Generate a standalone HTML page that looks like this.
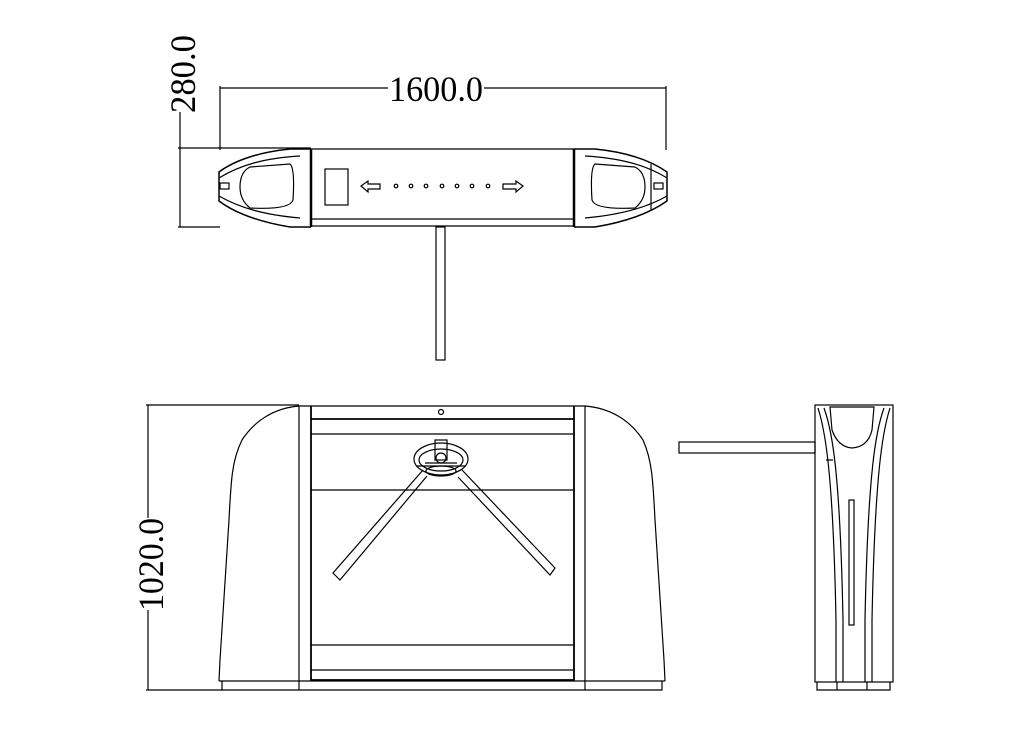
<!DOCTYPE html>
<html><head><style>html,body{margin:0;padding:0;background:#fff}svg{display:block}</style></head><body>
<svg width="1009" height="745" viewBox="0 0 1009 745" xmlns="http://www.w3.org/2000/svg" fill="none" stroke="#000" stroke-width="1.2">
<!-- dimensions top -->
<line x1="220" y1="88" x2="388" y2="88"/><line x1="484" y1="88" x2="666" y2="88"/>
<line x1="220" y1="86" x2="220" y2="150"/><line x1="666" y1="86" x2="666" y2="150"/>
<text x="389" y="101" font-family="Liberation Serif" font-size="36" fill="#000" stroke="none" textLength="94" lengthAdjust="spacingAndGlyphs">1600.0</text>
<line x1="180" y1="112" x2="180" y2="227"/>
<line x1="178" y1="148" x2="311" y2="148"/><line x1="178" y1="227" x2="220" y2="227"/>
<text transform="translate(195,113) rotate(-90)" font-family="Liberation Serif" font-size="36" fill="#000" stroke="none" textLength="78" lengthAdjust="spacingAndGlyphs">280.0</text>
<!-- top view -->
<line x1="311" y1="149" x2="574" y2="149"/><line x1="311" y1="219" x2="574" y2="219"/>
<line x1="311" y1="226" x2="574" y2="226"/>
<path d="M311,149 L290,149 C260,152 235,160 219,172 L219,201 C235,213 260,222 290,227 L311,227" stroke-width="1.5"/>
<path d="M219,178 C240,165 265,158 300,156 M219,196 C240,208 265,215 300,218"/>
<path d="M250,167 L290,164 Q295,168 293,200 Q290,210 250,208 Q240,200 240,187 Q240,172 250,167Z"/>
<rect x="220" y="183" width="9" height="6"/>
<line x1="311" y1="149" x2="311" y2="227" stroke-width="2.5"/>
<path d="M574,149 L595,149 C625,152 650,160 667,172 L667,201 C650,213 625,222 595,227 L574,227" stroke-width="1.5"/>
<path d="M667,178 C646,165 620,158 585,156 M667,196 C646,208 620,215 585,218"/>
<path d="M635,167 L595,164 Q590,168 592,200 Q595,210 635,208 Q645,200 645,187 Q645,172 635,167Z"/>
<line x1="651" y1="164" x2="651" y2="210"/>
<rect x="654" y="183" width="9" height="6"/>
<line x1="574" y1="149" x2="574" y2="227" stroke-width="2.5"/>
<rect x="325" y="169" width="23" height="36"/>
<path d="M361,186 L368,181 L368,184 L380,184 L380,189 L368,189 L368,192Z"/>
<path d="M523,186 L516,181 L516,184 L503,184 L503,189 L516,189 L516,192Z"/>
<g><circle cx="396" cy="186" r="1.8"/><circle cx="411" cy="186" r="1.8"/><circle cx="426" cy="186" r="1.8"/><circle cx="442" cy="186" r="1.8"/><circle cx="457" cy="186" r="1.8"/><circle cx="472" cy="186" r="1.8"/><circle cx="488" cy="186" r="1.8"/></g>
<rect x="436" y="227" width="9" height="133"/>
<!-- front view dims -->
<line x1="148" y1="405" x2="148" y2="518"/><line x1="148" y1="610" x2="148" y2="690"/>
<line x1="146" y1="405" x2="299" y2="405"/><line x1="146" y1="690" x2="222" y2="690"/>
<text transform="translate(163,611) rotate(-90)" font-family="Liberation Serif" font-size="36" fill="#000" stroke="none" textLength="93" lengthAdjust="spacingAndGlyphs">1020.0</text>
<!-- front view -->
<path d="M299,406 C275,408 255,420 242,440 C232,460 231,480 229,520 L220,660 L219,681"/>
<path d="M585,406 C610,408 630,420 643,440 C652,460 653,480 655,520 L664,660 L665,681"/>
<line x1="219" y1="681" x2="665" y2="681"/>
<path d="M222,681 L222,690 L662,690 L662,681"/>
<line x1="299" y1="406" x2="299" y2="690"/><line x1="311" y1="406" x2="311" y2="681" stroke-width="1.8"/>
<line x1="574" y1="406" x2="574" y2="681" stroke-width="1.8"/><line x1="585" y1="406" x2="585" y2="690"/>
<line x1="299" y1="406" x2="585" y2="406"/>
<line x1="311" y1="419" x2="574" y2="419" stroke-width="1.8"/>
<line x1="311" y1="434" x2="574" y2="434"/>
<line x1="311" y1="490" x2="574" y2="490"/>
<line x1="311" y1="645" x2="574" y2="645"/>
<line x1="311" y1="670" x2="574" y2="670"/>
<line x1="311" y1="680" x2="574" y2="680" stroke-width="1.8"/>
<circle cx="441" cy="412" r="2.5"/>
<path d="M423,470 L333,573 L340,580 L427,476 M414,471" />
<path d="M462,470 L555,568 L550,575 L458,477"/>
<ellipse cx="441" cy="459" rx="27" ry="16"/>
<ellipse cx="441" cy="460" rx="22" ry="11"/>
<ellipse cx="441" cy="471" rx="15" ry="5"/>
<rect x="435" y="440" width="12" height="20"/>
<circle cx="441" cy="458" r="5"/>
<path d="M416,466 L466,466 M425,463 L457,463"/>
<!-- side view -->
<rect x="679" y="442" width="136" height="11"/>
<rect x="815" y="405" width="78" height="277"/>
<path d="M817,682 L817,690 L890,690 L890,682 M837,682 L837,690 M867,682 L867,690"/>
<path d="M830,407 L832,430 Q838,447 852,448 Q868,447 872,430 L874,407Z"/>
<path d="M818,408 C825,430 833,470 836,620 L836,682"/>
<path d="M824,408 C832,430 840,470 843,620 L843,682"/>
<path d="M890,408 C883,430 875,470 872,620 L872,682"/>
<path d="M884,408 C876,430 868,470 865,620 L865,682"/>
<line x1="826" y1="460" x2="833" y2="460"/>
<rect x="849" y="500" width="5" height="125"/>
</svg>
</body></html>
